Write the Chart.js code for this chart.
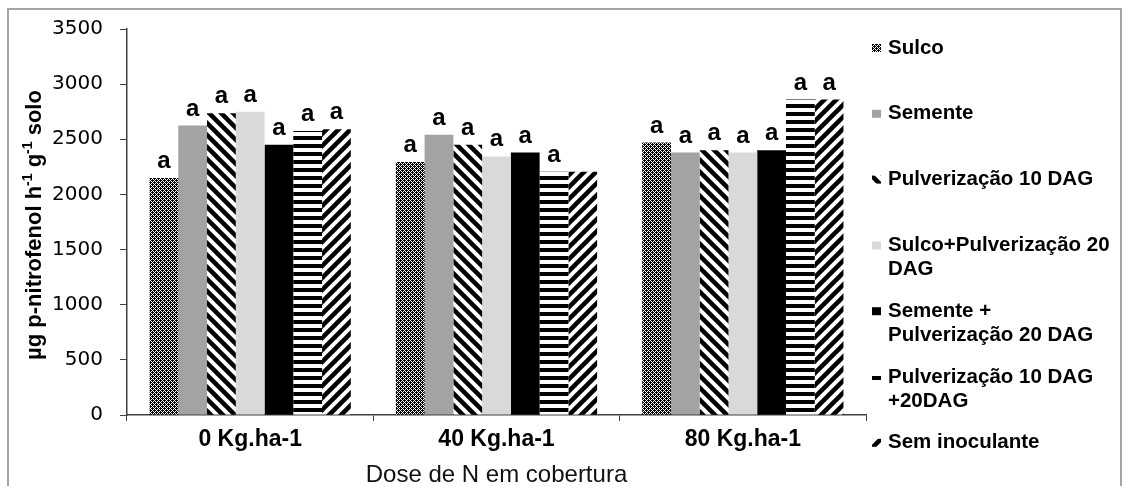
<!DOCTYPE html>
<html>
<head>
<meta charset="utf-8">
<script src="https://cdn.jsdelivr.net/npm/chart.js@4.4.1/dist/chart.umd.min.js"></script>
<style>
  body { margin: 0; background: #fff; }
  #wrap { width: 1128px; height: 486px; }
</style>
</head>
<body>
<div id="wrap"><canvas id="chart" width="1128" height="486"></canvas></div>
<script>
// categories (x axis)
const doses = ['0 Kg.ha-1', '40 Kg.ha-1', '80 Kg.ha-1'];

// legend names, one entry per line
const treatmentNames = [
  ['Sulco'],
  ['Semente'],
  ['Pulverização 10 DAG'],
  ['Sulco+Pulverização 20', 'DAG'],
  ['Semente +', 'Pulverização 20 DAG'],
  ['Pulverização 10 DAG', '+20DAG'],
  ['Sem inoculante']
];

// values (µg p-nitrofenol h-1 g-1 solo)
const sulco         = [2150, 2295, 2470];
const semente       = [2625, 2540, 2380];
const pulv10        = [2735, 2450, 2400];
const sulcoPulv20   = [2750, 2345, 2380];
const sementePulv20 = [2450, 2380, 2400];
const pulv10e20     = [2575, 2205, 2860];
const semInoculante = [2590, 2205, 2860];

// significance letters above the bars (one list per treatment)
const letters = [
  ['a', 'a', 'a'],
  ['a', 'a', 'a'],
  ['a', 'a', 'a'],
  ['a', 'a', 'a'],
  ['a', 'a', 'a'],
  ['a', 'a', 'a'],
  ['a', '', 'a']
];

const yMin = 0;
const yMax = 3500;
const yStep = 500;

const ctx = document.getElementById('chart').getContext('2d');

function makePattern(size, draw) {
  const c = document.createElement('canvas');
  c.width = size;
  c.height = size;
  const p = c.getContext('2d');
  p.fillStyle = '#fff';
  p.fillRect(0, 0, size, size);
  draw(p, size);
  return ctx.createPattern(c, 'repeat');
}

// dense dotted texture
const dotsPattern = makePattern(4, (p) => {
  p.fillStyle = '#000';
  p.fillRect(0, 0, 4, 4);
  p.fillStyle = '#fff';
  [[2, 0], [1, 1], [3, 1], [0, 2], [1, 3], [3, 3]].forEach(([x, y]) => p.fillRect(x, y, 1, 1));
});

function diagonal(down) {
  return makePattern(12, (p, s) => {
    p.strokeStyle = '#000';
    p.lineWidth = 4.5;
    for (let k = -1; k <= 1; k++) {
      p.beginPath();
      if (down) {
        p.moveTo(k * s - 2, -2);
        p.lineTo(k * s + s + 2, s + 2);
      } else {
        p.moveTo(k * s - 2, s + 2);
        p.lineTo(k * s + s + 2, -2);
      }
      p.stroke();
    }
  });
}

const horizPattern = makePattern(8, (p) => {
  p.fillStyle = '#000';
  p.fillRect(0, 0, 8, 4);
});

const fills = [dotsPattern, '#a3a3a3', diagonal(true), '#d9d9d9', '#000', horizPattern, diagonal(false)];
const seriesData = [sulco, semente, pulv10, sulcoPulv20, sementePulv20, pulv10e20, semInoculante];

const datasets = seriesData.map((values, i) => ({
  label: treatmentNames[i].join(' '),
  data: values,
  backgroundColor: fills[i],
  borderWidth: 0,
  categoryPercentage: 0.817,
  barPercentage: 1
}));

const framePlugin = {
  id: 'frame',
  beforeDraw(chart) {
    const c = chart.ctx;
    c.save();
    c.fillStyle = '#fff';
    c.fillRect(0, 0, chart.width, chart.height);
    c.strokeStyle = '#a6a6a6';
    c.lineWidth = 2;
    c.strokeRect(8, 9, 1113, 500);
    c.restore();
  }
};

const lettersPlugin = {
  id: 'letters',
  afterDatasetsDraw(chart) {
    const c = chart.ctx;
    c.save();
    c.font = 'bold 24px "Liberation Sans", Arial, sans-serif';
    c.fillStyle = '#000';
    c.textAlign = 'center';
    c.textBaseline = 'alphabetic';
    chart.data.datasets.forEach((ds, i) => {
      chart.getDatasetMeta(i).data.forEach((bar, j) => {
        c.fillText(letters[i][j], bar.x, bar.y - 10);
      });
    });
    c.restore();
  }
};

const yTitlePlugin = {
  id: 'yTitle',
  afterDraw(chart) {
    const c = chart.ctx;
    const area = chart.chartArea;
    const parts = [
      ['µg p-nitrofenol h', false], ['-1', true], [' g', false], ['-1', true], [' solo', false]
    ];
    const big = 'bold 22px "Liberation Sans", Arial, sans-serif';
    const small = 'bold 14px "Liberation Sans", Arial, sans-serif';
    c.save();
    let total = 0;
    parts.forEach(([t, sup]) => { c.font = sup ? small : big; total += c.measureText(t).width; });
    c.translate(35, (area.top + area.bottom) / 2 + 3);
    c.rotate(-Math.PI / 2);
    c.fillStyle = '#000';
    c.textBaseline = 'middle';
    let x = -total / 2;
    parts.forEach(([t, sup]) => {
      c.font = sup ? small : big;
      c.fillText(t, x, sup ? -7 : 0);
      x += c.measureText(t).width;
    });
    c.restore();
  }
};

const legendPlugin = {
  id: 'sideLegend',
  afterDraw(chart) {
    const c = chart.ctx;
    c.save();
    c.font = 'bold 20.5px "Liberation Sans", Arial, sans-serif';
    c.textBaseline = 'middle';
    treatmentNames.forEach((lines, i) => {
      const y = 48 + i * 65.8;
      c.fillStyle = fills[i];
      c.fillRect(872, y - 4, 9, 8);
      c.fillStyle = '#000';
      lines.forEach((line, k) => c.fillText(line, 888, y + k * 24));
    });
    c.restore();
  }
};

new Chart(ctx, {
  type: 'bar',
  data: { labels: doses, datasets: datasets },
  plugins: [framePlugin, lettersPlugin, yTitlePlugin, legendPlugin],
  options: {
    responsive: false,
    animation: false,
    devicePixelRatio: 1,
    layout: { padding: { top: 23, right: 262, left: 0, bottom: 0 } },
    plugins: {
      legend: { display: false },
      tooltip: { enabled: false }
    },
    scales: {
      x: {
        grid: { offset: true, drawOnChartArea: false, tickLength: 6, color: '#404040', lineWidth: 1 },
        border: { color: '#404040', width: 1.5 },
        ticks: {
          color: '#000',
          padding: 5,
          font: { family: '"Liberation Sans", Arial, sans-serif', weight: 'bold', size: 23 }
        },
        title: {
          display: true,
          text: 'Dose de N em cobertura',
          color: '#111',
          padding: { top: 0, bottom: 0 },
          font: { family: '"Liberation Sans", Arial, sans-serif', size: 24, lineHeight: 0.85 }
        },
        afterFit(scale) { scale.height = 71; }
      },
      y: {
        min: yMin,
        max: yMax,
        ticks: {
          stepSize: yStep,
          color: '#000',
          padding: 17,
          font: { family: '"DejaVu Sans", Verdana, sans-serif', size: 20 },
          callback: (value) => String(value)
        },
        grid: { drawOnChartArea: false, tickLength: 7, color: '#404040', lineWidth: 1 },
        border: { color: '#404040', width: 1.5 },
        afterFit(scale) { scale.width = 127; }
      }
    }
  }
});
</script>
</body>
</html>
